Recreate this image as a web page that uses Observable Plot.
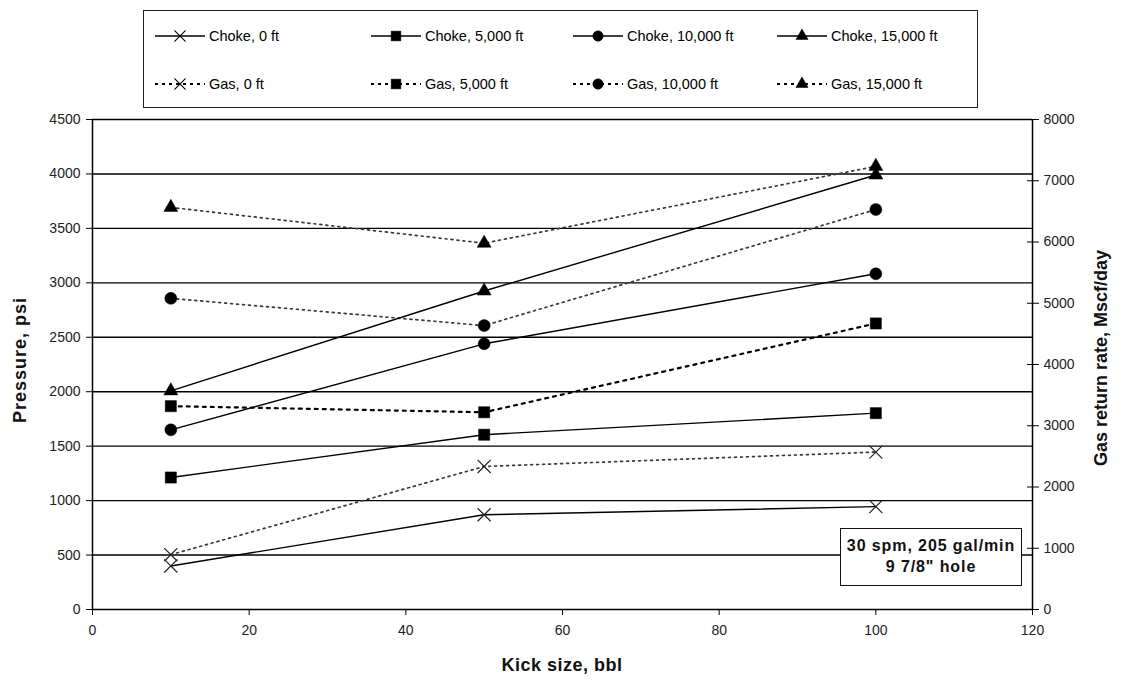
<!DOCTYPE html>
<html>
<head>
<meta charset="utf-8">
<script src="https://cdn.jsdelivr.net/npm/d3@7"></script>
<script src="https://cdn.jsdelivr.net/npm/@observablehq/plot@0.6"></script>
<style>
  body { margin: 0; background: #fff; font-family: "Liberation Sans", Arial, sans-serif; }
  #wrap { position: relative; width: 1122px; height: 681px; overflow: hidden; }
  #chart { position: absolute; left: 0; top: 0; }
  #legend { position: absolute; left: 143px; top: 10px; width: 835px; height: 98px; border: 1.5px solid #222; background: #fff; box-sizing: border-box; }
  .li { position: absolute; display: flex; align-items: center; font-size: 14.5px; color: #000; white-space: nowrap; }
  .li svg { margin-right: 3px; }
  .title { position: absolute; font-weight: bold; font-size: 18px; color: #111; white-space: nowrap; }
  #note { position: absolute; left: 840px; top: 528px; width: 182px; height: 58px; border: 1.5px solid #111; background: #fff; box-sizing: border-box; font-weight: bold; font-size: 16px; letter-spacing: 0.9px; text-align: center; line-height: 21px; padding-top: 6px; color: #111; }
</style>
</head>
<body>
<div id="wrap">
  <div id="chart"></div>
  <div id="legend"></div>
  <div class="title" id="ytitle" style="left:20px; top:360px; transform: translate(-50%,-50%) rotate(-90deg); letter-spacing:1px;">Pressure, psi</div>
  <div class="title" id="y2title" style="left:1101px; top:358px; transform: translate(-50%,-50%) rotate(-90deg);">Gas return rate, Mscf/day</div>
  <div class="title" id="xtitle" style="left:562px; top:665px; transform: translate(-50%,-50%); letter-spacing:0.5px;">Kick size, bbl</div>
  <div id="note">30 spm, 205 gal/min<br>9 7/8" hole</div>
</div>
<script>
// ---- data ----
const kickSize = [10, 50, 100];
const depths = ["0 ft", "5,000 ft", "10,000 ft", "15,000 ft"];
const symbols = ["times", "square", "circle", "triangle"];
// Choke pressure, psi (left axis)
const choke0 = [400, 870, 945];
const choke5000 = [1212, 1605, 1803];
const choke10000 = [1650, 2440, 3083];
const choke15000 = [2008, 2925, 3990];
// Gas return rate, Mscf/day (right axis)
const gas0 = [895, 2335, 2570];
const gas5000 = [3320, 3220, 4670];
const gas10000 = [5080, 4635, 6530];
const gas15000 = [6565, 5980, 7235];
const pressureTicks = d3.range(0, 4501, 500);
const gasTicks = d3.range(0, 8001, 1000);
const xTicks = d3.range(0, 121, 20);

const chokeSeries = [choke0, choke5000, choke10000, choke15000];
const gasSeries = [gas0, gas5000, gas10000, gas15000];
const ratio = 4500 / 8000; // right axis 0-8000 maps onto left 0-4500

const chokeRows = [];
const gasRows = [];
depths.forEach((d, i) => {
  kickSize.forEach((k, j) => {
    chokeRows.push({series: "Choke, " + d, depth: d, sym: symbols[i], x: k, y: chokeSeries[i][j]});
    gasRows.push({series: "Gas, " + d, depth: d, sym: symbols[i], x: k, y: gasSeries[i][j] * ratio});
  });
});
const allRows = chokeRows.concat(gasRows);
const rOf = {times: 6, square: 6.3, circle: 6, triangle: 5.2};

const dotMarks = symbols.map(s => Plot.dot(allRows.filter(r => r.sym === s), {
  x: "x", y: "y", symbol: s, r: rOf[s],
  fill: s === "times" ? "none" : "#000", stroke: s === "times" ? "#222" : "#000", strokeWidth: s === "times" ? 1.2 : 0.5
}));

const gasLineMarks = depths.map(d => Plot.line(gasRows.filter(r => r.depth === d), {
  x: "x", y: "y",
  stroke: d === "5,000 ft" ? "#000" : "#3a3a3a",
  strokeWidth: d === "5,000 ft" ? 2.2 : 1.7,
  strokeDasharray: d === "5,000 ft" ? "3,5" : "2,4"
}));

const plot = Plot.plot({
  width: 1122,
  height: 681,
  marginTop: 119,
  marginBottom: 72,
  marginLeft: 92,
  marginRight: 90,
  style: {fontFamily: "'Liberation Sans', Arial, sans-serif", fontSize: "14px", color: "#222", background: "transparent"},
  x: {domain: [0, 120]},
  y: {domain: [0, 4500]},
  marks: [
    Plot.ruleY(pressureTicks, {stroke: "#000", strokeWidth: 1.4}),
    Plot.ruleX([0, 120], {stroke: "#000", strokeWidth: 1.5}),
    ...gasLineMarks,
    Plot.line(chokeRows, {x: "x", y: "y", z: "series", stroke: "#000", strokeWidth: 1.4}),
    ...dotMarks,
    Plot.axisX({ticks: xTicks, tickSize: 6, tickPadding: 10, label: null, stroke: "#000"}),
    Plot.axisY({ticks: pressureTicks, tickFormat: d => String(d), tickSize: 6, tickPadding: 6, label: null, stroke: "#000", style: {letterSpacing: "1px"}}),
    Plot.axisY({anchor: "right", ticks: gasTicks.map(v => v * ratio), tickFormat: v => String(Math.round(v / ratio)), tickSize: 6, tickPadding: 5, label: null, stroke: "#000", style: {letterSpacing: "1px"}}),
    Plot.axisY({anchor: "right", ticks: gasTicks.map(v => v * ratio), text: null, tickSize: 6, dx: -6, label: null, stroke: "#000"})
  ]
});
document.getElementById("chart").appendChild(plot);

// ---- legend (HTML with small swatches) ----
const legend = document.getElementById("legend");
const colX = [10, 226, 428, 632];
const rowY = [27, 75];
function swatch(sym, dashed) {
  const w = 52, h = 16;
  const path = d3.symbol(d3["symbol" + {times: "Times", square: "Square", circle: "Circle", triangle: "Triangle"}[sym]], Math.PI * rOf[sym] * rOf[sym] * 0.75)();
  const line = dashed
    ? `<line x1="1" y1="8" x2="${w - 1}" y2="8" stroke="#000" stroke-width="2" stroke-dasharray="3,4"/>`
    : `<line x1="1" y1="8" x2="${w - 1}" y2="8" stroke="#000" stroke-width="1.3"/>`;
  const fill = sym === "times" ? "none" : "#000";
  return `<svg width="${w}" height="${h}">${line}<path d="${path}" transform="translate(${w / 2},8)" fill="${fill}" stroke="#000" stroke-width="${sym === "times" ? 1.1 : 0.5}"/></svg>`;
}
["Choke", "Gas"].forEach((kind, r) => {
  depths.forEach((d, i) => {
    const el = document.createElement("div");
    el.className = "li";
    el.style.left = colX[i] + "px";
    el.style.top = (rowY[r] - 10) + "px";
    el.innerHTML = swatch(symbols[i], kind === "Gas") + `<span>${kind}, ${d}</span>`;
    legend.appendChild(el);
  });
});
</script>
</body>
</html>
